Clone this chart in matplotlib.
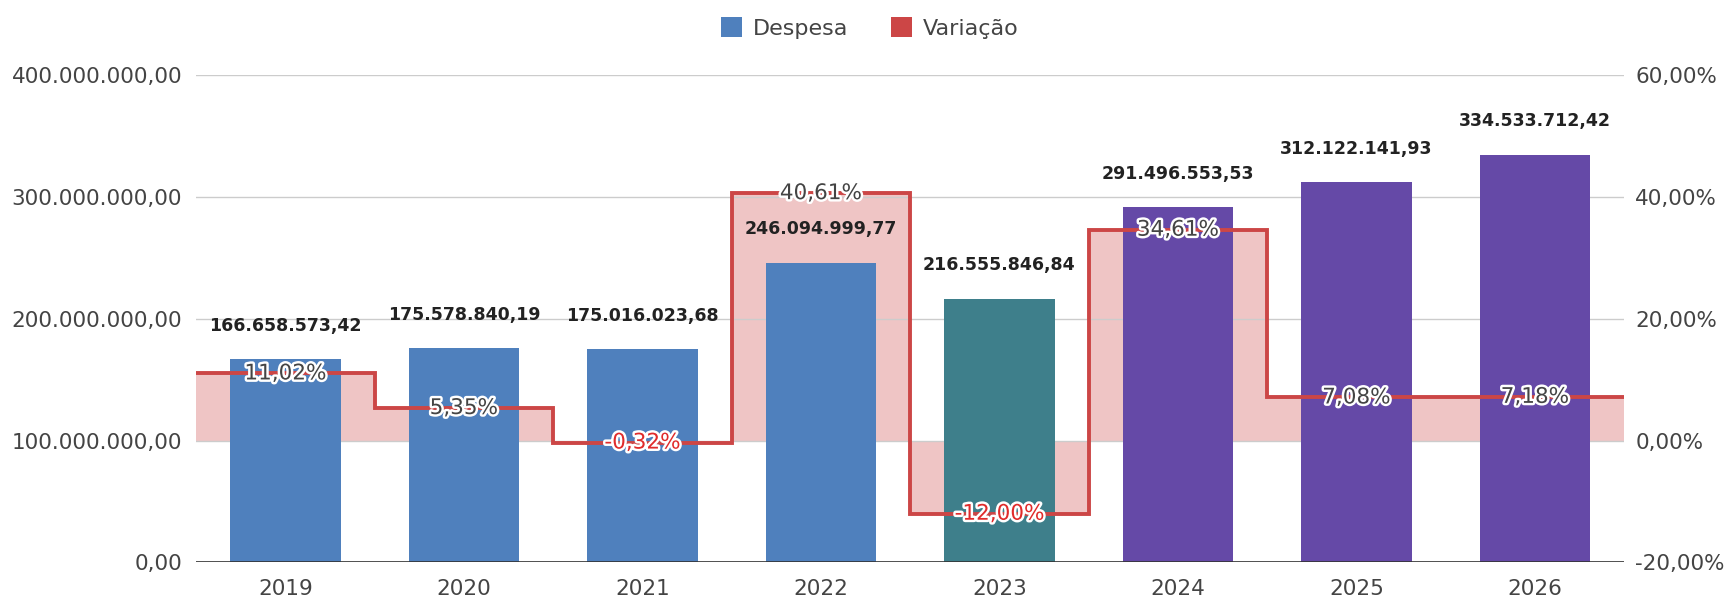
import matplotlib
matplotlib.use("Agg")
import matplotlib.pyplot as plt
import matplotlib.patheffects as pe
from matplotlib.patches import Patch
from matplotlib.ticker import FuncFormatter
import numpy as np

# data
anos = ["2019", "2020", "2021", "2022", "2023", "2024", "2025", "2026"]
despesa = [166658573.42, 175578840.19, 175016023.68, 246094999.77,
           216555846.84, 291496553.53, 312122141.93, 334533712.42]
variacao = [11.02, 5.35, -0.32, 40.61, -12.00, 34.61, 7.08, 7.18]

# styling
BLUE = "#4f80bd"
TEAL = "#3e7f8b"
PURPLE = "#6549a7"
RED = "#cc4646"
bar_colors = [BLUE, BLUE, BLUE, BLUE, TEAL, PURPLE, PURPLE, PURPLE]


def fmt_br(v, dec=2):
    s = "{:,.{}f}".format(v, dec)
    return s.replace(",", "X").replace(".", ",").replace("X", ".")


fig = plt.figure(figsize=(17.26, 5.98), dpi=100)
ax = fig.add_axes([0.1136, 0.0594, 0.941 - 0.1136, 0.8746 - 0.0594])
ax2 = ax.twinx()
ax.set_zorder(1)
ax2.set_zorder(2)
ax.patch.set_visible(False)
ax2.patch.set_visible(False)

x = np.arange(len(anos))

# left axis: bars
ax.set_ylim(0, 400e6)
ax.set_xlim(-0.5, len(anos) - 0.5)
ax.set_yticks(np.arange(0, 400e6 + 1, 100e6))
ax.yaxis.set_major_formatter(FuncFormatter(lambda v, p: fmt_br(v)))
ax.grid(axis="y", color="#cccccc", linewidth=1)
ax.set_axisbelow(True)

# right axis: variation
ax2.set_ylim(-20, 60)
ax2.set_yticks(np.arange(-20, 61, 20))
ax2.yaxis.set_major_formatter(FuncFormatter(lambda v, p: fmt_br(v) + "%"))

edges = np.arange(-0.5, len(anos), 1.0)
# pink area sits behind the bars -> draw on ax with transformed values
scale = 400e6 / 80.0
area_vals = [(v + 20) * scale for v in variacao]
ax.stairs(area_vals, edges, baseline=20 * scale, fill=True,
          color="#efc5c5", zorder=0.5, linewidth=0)

bars = ax.bar(x, despesa, width=0.62, color=bar_colors, zorder=2)

ax2.stairs(variacao, edges, baseline=None, color=RED, linewidth=2.8, zorder=3)

for i, v in enumerate(despesa):
    ax.annotate(fmt_br(v), (x[i], v), xytext=(0, 24),
                textcoords="offset points", ha="center", va="center",
                fontsize=12.5, fontweight="bold", color="#222222", zorder=5)

for i, v in enumerate(variacao):
    c = "#e02b2b" if v < 0 else "#444444"
    t = ax2.text(x[i], v, fmt_br(v) + "%", ha="center", va="center",
                 fontsize=15.5, color=c, zorder=6)
    t.set_path_effects([pe.withStroke(linewidth=3.5, foreground="white")])

ax.set_xticks(x)
ax.set_xticklabels(anos)
for a in (ax, ax2):
    for s in a.spines.values():
        s.set_visible(False)
    a.tick_params(length=0, labelsize=15.5, labelcolor="#444444")
ax.tick_params(axis="y", pad=10)
ax.tick_params(axis="x", pad=12)
ax2.tick_params(axis="y", pad=8)
ax.axhline(0, color="#333333", linewidth=1.2, zorder=3)

handles = [Patch(facecolor=BLUE, label="Despesa"),
           Patch(facecolor=RED, label="Variação")]
fig.legend(handles=handles, loc="center", bbox_to_anchor=(0.504, 0.953),
           ncol=2, frameon=False, fontsize=16, handlelength=0.95,
           handleheight=0.95, handletextpad=0.5, columnspacing=1.9,
           labelcolor="#444444")

fig.savefig("out.png", dpi=100)
